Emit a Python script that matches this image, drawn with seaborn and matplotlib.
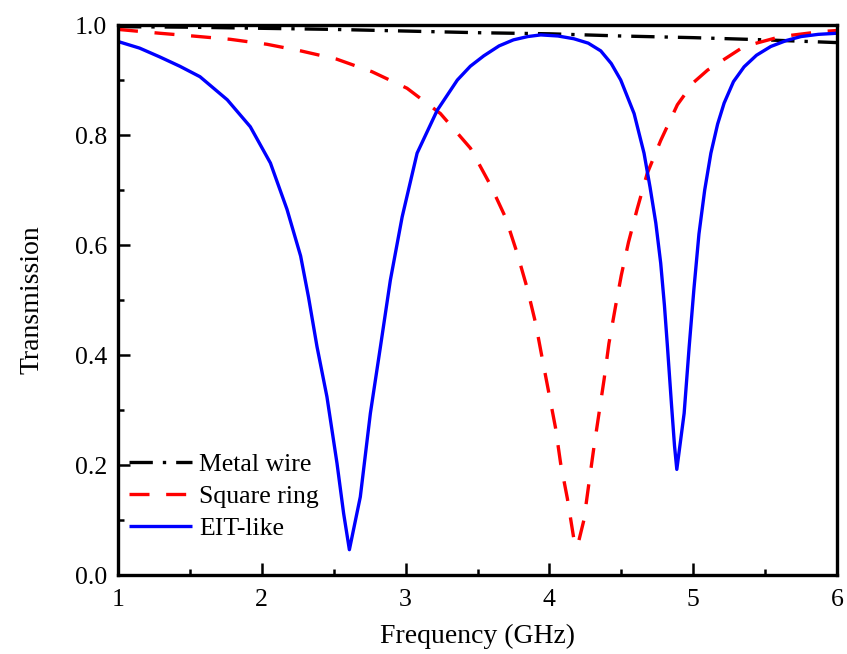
import numpy as np
import pandas as pd
import matplotlib
matplotlib.use("Agg")
import matplotlib.pyplot as plt
from matplotlib.ticker import MultipleLocator, FormatStrFormatter
import seaborn as sns

# ---- data ----
wire_f = [1.0, 1.5, 2.0, 2.5, 3.0, 3.5, 4.0, 4.5, 5.0, 5.5, 6.0]
wire_t = [0.997, 0.996, 0.994, 0.992, 0.989, 0.986, 0.984, 0.980, 0.977, 0.973, 0.968]

ring_f = [1.00, 1.29, 1.52, 1.78, 2.035, 2.27, 2.52, 2.767, 3.01, 3.242, 3.451, 3.59,
          3.695, 3.776, 3.846, 3.904, 3.95, 3.997, 4.043, 4.078, 4.125, 4.171, 4.195,
          4.24, 4.275, 4.31, 4.345, 4.38, 4.414, 4.461, 4.50, 4.55, 4.61, 4.68, 4.774,
          4.89, 5.00, 5.10, 5.354, 5.61, 5.89, 6.00]
ring_t = [0.992, 0.985, 0.980, 0.974, 0.965, 0.953, 0.938, 0.915, 0.885, 0.839, 0.776, 0.709,
          0.650, 0.585, 0.521, 0.458, 0.394, 0.330, 0.267, 0.203, 0.139, 0.064, 0.052,
          0.100, 0.167, 0.233, 0.294, 0.355, 0.421, 0.490, 0.545, 0.605, 0.665, 0.730, 0.790,
          0.855, 0.895, 0.918, 0.961, 0.979, 0.988, 0.990]

eit_f = [1.00, 1.15, 1.29, 1.43, 1.57, 1.76, 1.92, 2.06, 2.175, 2.27, 2.325, 2.384,
         2.453, 2.523, 2.569, 2.609, 2.685, 2.755, 2.825, 2.894, 2.976, 3.08, 3.22, 3.36,
         3.45, 3.544, 3.65, 3.75, 3.85, 3.94, 4.06, 4.17, 4.27, 4.357, 4.43, 4.496, 4.589,
         4.658, 4.70, 4.74, 4.774, 4.80, 4.821, 4.849, 4.87, 4.886, 4.937, 4.972, 5.005,
         5.04, 5.08, 5.123, 5.17, 5.215, 5.28, 5.354, 5.44, 5.54, 5.65, 5.75, 5.87, 6.00]
eit_t = [0.970, 0.958, 0.942, 0.925, 0.906, 0.864, 0.815, 0.749, 0.665, 0.580, 0.505, 0.415,
         0.324, 0.203, 0.112, 0.046, 0.142, 0.294, 0.415, 0.536, 0.651, 0.767, 0.845, 0.900,
         0.925, 0.944, 0.962, 0.973, 0.979, 0.982, 0.980, 0.975, 0.967, 0.953, 0.930, 0.900, 0.839,
         0.767, 0.705, 0.640, 0.567, 0.490, 0.415, 0.310, 0.235, 0.192, 0.294, 0.415, 0.520,
         0.620, 0.700, 0.767, 0.820, 0.858, 0.897, 0.924, 0.945, 0.961, 0.972, 0.979, 0.983, 0.985]

labels = ["Metal wire", "Square ring", "EIT-like"]
colors = ["#000000", "#ff0000", "#0000ff"]
x_ticks = [1, 2, 3, 4, 5, 6]
y_ticks = [0.0, 0.2, 0.4, 0.6, 0.8, 1.0]

df = pd.concat([
    pd.DataFrame({"Frequency": wire_f, "Transmission": wire_t, "Series": labels[0]}),
    pd.DataFrame({"Frequency": ring_f, "Transmission": ring_t, "Series": labels[1]}),
    pd.DataFrame({"Frequency": eit_f, "Transmission": eit_t, "Series": labels[2]}),
], ignore_index=True)

sns.set_theme(style="ticks")
plt.rcParams["font.family"] = ["Liberation Serif", "DejaVu Serif"]

fig = plt.figure(figsize=(8.47, 6.54), dpi=100)
ax = fig.add_axes([118 / 847, 1 - 575 / 654, (837 - 118) / 847, (575 - 25) / 654])

sns.lineplot(data=df, x="Frequency", y="Transmission", hue="Series", style="Series",
             hue_order=labels, style_order=labels,
             palette=dict(zip(labels, colors)),
             dashes={labels[0]: (7, 3, 1, 3), labels[1]: (6, 5), labels[2]: ""},
             estimator=None, sort=False, linewidth=2.4, ax=ax)

for ln in ax.get_lines():
    ln.set_solid_capstyle("butt")
    ln.set_dash_capstyle("butt")
    ln.set_solid_joinstyle("round")

ax.set_xlim(1, 6)
ax.set_ylim(0, 1.0)
ax.set_xticks(x_ticks)
ax.set_yticks(y_ticks)
ax.xaxis.set_minor_locator(MultipleLocator(0.5))
ax.yaxis.set_minor_locator(MultipleLocator(0.1))
ax.yaxis.set_major_formatter(FormatStrFormatter("%.1f"))
ax.xaxis.set_major_formatter(FormatStrFormatter("%d"))

ax.tick_params(which="both", direction="in", top=False, right=False, colors="black",
               labelsize=18.5)
ax.tick_params(which="major", length=8.5, width=1.8, pad=8)
ax.tick_params(axis="x", which="major", pad=10)
ax.tick_params(which="minor", length=4.5, width=1.8)
for sp in ax.spines.values():
    sp.set_linewidth(2.4)
    sp.set_color("black")
    sp.set_visible(True)

ax.set_xlabel("Frequency (GHz)", fontsize=20, color="black", labelpad=9)
ax.set_ylabel("Transmission", fontsize=20, color="black", labelpad=22)

leg = ax.legend(loc="upper left", bbox_to_anchor=(0.015, 0.222), frameon=False,
                fontsize=18.5, handlelength=2.45, handletextpad=0.3,
                labelspacing=0.36, borderpad=0, borderaxespad=0)
for t in leg.get_texts():
    t.set_color("black")

fig.savefig("out.png", dpi=100, facecolor="white")
